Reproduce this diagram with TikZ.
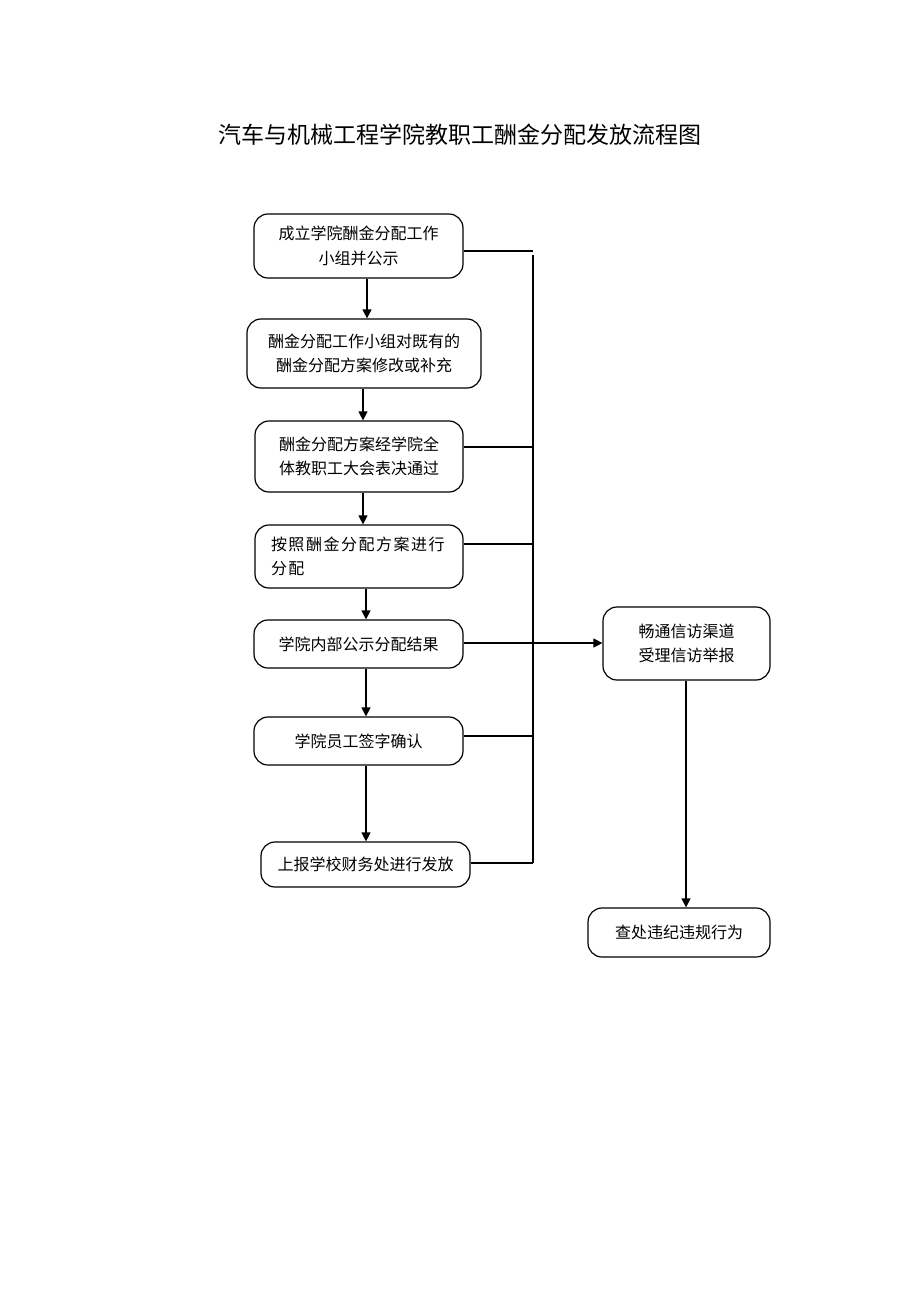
\documentclass[tikz,border=0pt]{standalone}
\usepackage{fontspec}
\setmainfont{Noto Sans CJK SC}
\newfontfamily\spreadfont[LetterSpace=9.4]{Noto Sans CJK SC}
\usetikzlibrary{arrows.meta,positioning}
\tikzstyle{stage}=[rounded corners=14pt,draw=black,line width=1.2pt,align=center,inner sep=0pt,font=\fontsize{16}{24.5}\selectfont]
\tikzstyle{heading}=[inner sep=0pt]
\tikzstyle{link}=[line width=1.2pt]

\begin{document}
\begin{tikzpicture}[x=1pt,y=-1pt,->,>={Triangle[length=9pt,width=9pt]},
                    line width=1.2pt]
  \useasboundingbox (0,0) rectangle (920,1302);

  \node[heading] (T) at (459.5,135) {\fontsize{23}{26}\selectfont 汽车与机械工程学院教职工酬金分配发放流程图};

  \node[stage,minimum width=209pt,minimum height=64pt] (S1) at (358.5,246) {成立学院酬金分配工作\\小组并公示};
  \node[stage,minimum width=234pt,minimum height=69pt] (S2) at (364,353.5) {酬金分配工作小组对既有的\\酬金分配方案修改或补充};
  \node[stage,minimum width=208pt,minimum height=71pt] (S3) at (359,456.5) {酬金分配方案经学院全\\体教职工大会表决通过};
  \node[stage,minimum width=208pt,minimum height=63pt,align=left,text width=176pt,font=\fontsize{16}{24.5}\spreadfont] (S4) at (359,556.5) {按照酬金分配方案进行\\分配};
  \node[stage,minimum width=209pt,minimum height=48pt] (S5) at (358.5,644) {学院内部公示分配结果};
  \node[stage,minimum width=209pt,minimum height=48pt] (S6) at (358.5,741) {学院员工签字确认};
  \node[stage,minimum width=209pt,minimum height=45pt] (S7) at (365.5,864.5) {上报学校财务处进行发放};
  \node[stage,minimum width=167pt,minimum height=73pt] (S8) at (686.5,643.5) {畅通信访渠道\\受理信访举报};
  \node[stage,minimum width=182pt,minimum height=49pt] (S9) at (679,932.5) {查处违纪违规行为};

  % feedback rail
  \coordinate (R0) at (533,255);
  \coordinate (J1) at (533,251);
  \coordinate (J3) at (533,447);
  \coordinate (J4) at (533,544);
  \coordinate (J6) at (533,736);
  \coordinate (J7) at (533,863);

  \draw[link] ([xshift=8.5pt]S1.south) -- ([xshift=3pt]S2.north);
  \draw[link] ([xshift=-1pt]S2.south) -- ([xshift=4pt]S3.north);
  \draw[link] ([xshift=4pt]S3.south) -- ([xshift=4pt]S4.north);
  \draw[link] ([xshift=7pt]S4.south) -- ([xshift=7.5pt]S5.north);
  \draw[link] ([xshift=7.5pt]S5.south) -- ([xshift=7.5pt]S6.north);
  \draw[link] ([xshift=7.5pt]S6.south) -- ([xshift=0.5pt]S7.north);
  \draw[link] ([yshift=1pt]S5.east) -- ([yshift=0.5pt]S8.west);
  \draw[link] ([xshift=-0.5pt]S8.south) -- ([xshift=7pt]S9.north);

  \draw[link,-] ([yshift=-5pt]S1.east) -- (J1);
  \draw[link,-] ([yshift=9.5pt]S3.east) -- (J3);
  \draw[link,-] ([yshift=12.5pt]S4.east) -- (J4);
  \draw[link,-] ([yshift=5pt]S6.east) -- (J6);
  \draw[link,-] ([yshift=1.5pt]S7.east) -- (J7);
  \draw[link,-] (R0) -- (J7);
\end{tikzpicture}
\end{document}
